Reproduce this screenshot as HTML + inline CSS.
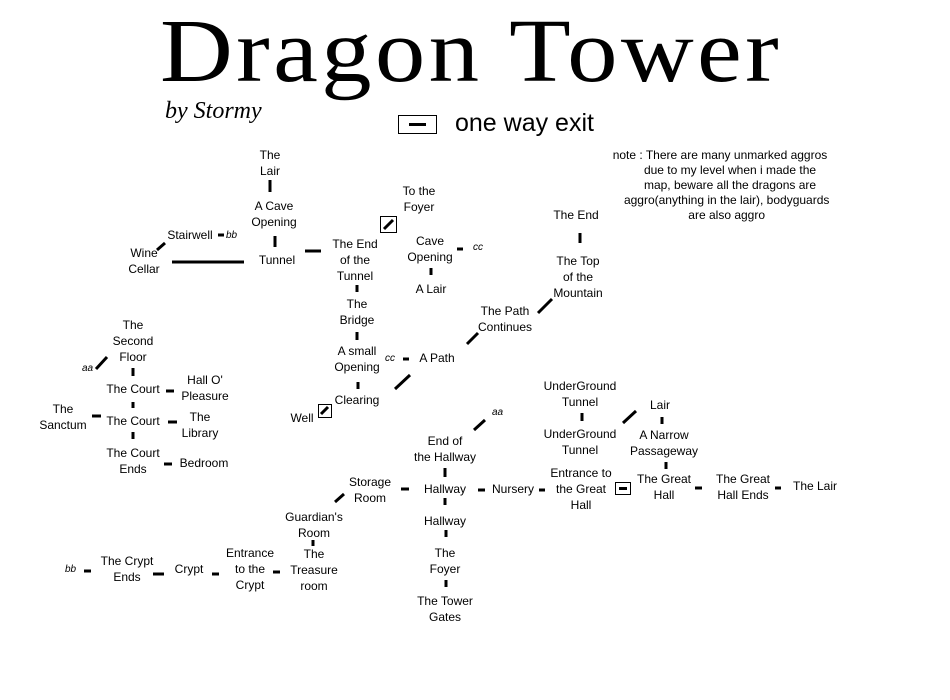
<!DOCTYPE html>
<html><head><meta charset="utf-8"><style>
html,body{margin:0;padding:0;background:#fff;}
#c{position:relative;width:950px;height:700px;overflow:hidden;background:#fff;font-family:"Liberation Sans",sans-serif;color:#000;}
.t{position:absolute;transform:translateX(-50%);text-align:center;font-size:12px;line-height:16px;white-space:nowrap;}
.i{position:absolute;font-style:italic;font-size:10px;line-height:12px;}
svg{position:absolute;left:0;top:0;}
</style></head><body><div id="c">
<div style="position:absolute;left:471px;top:2px;transform:translateX(-50%) scaleX(1.12);font-family:'Liberation Serif',serif;font-size:90px;line-height:99px;white-space:nowrap;letter-spacing:3px;">Dragon Tower</div>
<div style="position:absolute;left:165px;top:96px;font-family:'Liberation Serif',serif;font-style:italic;font-size:24px;line-height:30px;">by Stormy</div>
<div style="position:absolute;left:455px;top:107px;font-size:25px;line-height:32px;">one way exit</div>
<div style="position:absolute;left:720px;top:148px;transform:translateX(-50%);text-align:center;font-size:12px;line-height:15px;white-space:nowrap;">note : There are many unmarked aggros<br>&nbsp;&nbsp;&nbsp;&nbsp;&nbsp;&nbsp;due to my level when i made the<br>&nbsp;&nbsp;&nbsp;&nbsp;&nbsp;&nbsp;map, beware all the dragons are<br>&nbsp;&nbsp;&nbsp;&nbsp;aggro(anything in the lair), bodyguards<br>&nbsp;&nbsp;&nbsp;&nbsp;are also aggro</div>

<div class="t" style="left:270px;top:147px">The<br>Lair</div>
<div class="t" style="left:274px;top:198px">A Cave<br>Opening</div>
<div class="t" style="left:277px;top:252px">Tunnel</div>
<div class="t" style="left:190px;top:227px">Stairwell</div>
<div class="i" style="left:226px;top:230px">bb</div>
<div class="t" style="left:144px;top:245px">Wine<br>Cellar</div>
<div class="t" style="left:355px;top:236px">The End<br>of the<br>Tunnel</div>
<div class="t" style="left:419px;top:183px">To the<br>Foyer</div>
<div class="t" style="left:430px;top:233px">Cave<br>Opening</div>
<div class="t" style="left:431px;top:281px">A Lair</div>
<div class="i" style="left:473px;top:242px">cc</div>
<div class="t" style="left:576px;top:207px">The End</div>
<div class="t" style="left:578px;top:253px">The Top<br>of the<br>Mountain</div>
<div class="t" style="left:505px;top:303px">The Path<br>Continues</div>
<div class="t" style="left:357px;top:296px">The<br>Bridge</div>
<div class="t" style="left:357px;top:343px">A small<br>Opening</div>
<div class="i" style="left:385px;top:353px">cc</div>
<div class="t" style="left:437px;top:350px">A Path</div>
<div class="t" style="left:357px;top:392px">Clearing</div>
<div class="t" style="left:302px;top:410px">Well</div>
<div class="t" style="left:133px;top:317px">The<br>Second<br>Floor</div>
<div class="i" style="left:82px;top:363px">aa</div>
<div class="t" style="left:133px;top:381px">The Court</div>
<div class="t" style="left:205px;top:372px">Hall O'<br>Pleasure</div>
<div class="t" style="left:63px;top:401px">The<br>Sanctum</div>
<div class="t" style="left:133px;top:413px">The Court</div>
<div class="t" style="left:200px;top:409px">The<br>Library</div>
<div class="t" style="left:133px;top:445px">The Court<br>Ends</div>
<div class="t" style="left:204px;top:455px">Bedroom</div>
<div class="i" style="left:492px;top:407px">aa</div>
<div class="t" style="left:445px;top:433px">End of<br>the Hallway</div>
<div class="t" style="left:580px;top:378px">UnderGround<br>Tunnel</div>
<div class="t" style="left:580px;top:426px">UnderGround<br>Tunnel</div>
<div class="t" style="left:660px;top:397px">Lair</div>
<div class="t" style="left:664px;top:427px">A Narrow<br>Passageway</div>
<div class="t" style="left:370px;top:474px">Storage<br>Room</div>
<div class="t" style="left:445px;top:481px">Hallway</div>
<div class="t" style="left:513px;top:481px">Nursery</div>
<div class="t" style="left:581px;top:465px">Entrance to<br>the Great<br>Hall</div>
<div class="t" style="left:664px;top:471px">The Great<br>Hall</div>
<div class="t" style="left:743px;top:471px">The Great<br>Hall Ends</div>
<div class="t" style="left:815px;top:478px">The Lair</div>
<div class="t" style="left:445px;top:513px">Hallway</div>
<div class="t" style="left:445px;top:545px">The<br>Foyer</div>
<div class="t" style="left:445px;top:593px">The Tower<br>Gates</div>
<div class="t" style="left:314px;top:509px">Guardian's<br>Room</div>
<div class="t" style="left:314px;top:546px">The<br>Treasure<br>room</div>
<div class="t" style="left:250px;top:545px">Entrance<br>to the<br>Crypt</div>
<div class="t" style="left:189px;top:561px">Crypt</div>
<div class="t" style="left:127px;top:553px">The Crypt<br>Ends</div>
<div class="i" style="left:65px;top:564px">bb</div>

<svg width="950" height="700" viewBox="0 0 950 700">
<g stroke="#000" stroke-width="3" fill="none">
<line x1="270" y1="180" x2="270" y2="192"/>
<line x1="275" y1="236" x2="275" y2="247"/>
<line x1="305" y1="251" x2="321" y2="251"/>
<line x1="172" y1="262" x2="244" y2="262"/>
<line x1="157" y1="250" x2="165" y2="243"/>
<line x1="218" y1="235" x2="224" y2="235"/>
<line x1="357" y1="285" x2="357" y2="292"/>
<line x1="357" y1="332" x2="357" y2="340"/>
<line x1="358" y1="382" x2="358" y2="389"/>
<line x1="457" y1="249" x2="463" y2="249"/>
<line x1="431" y1="268" x2="431" y2="275"/>
<line x1="580" y1="233" x2="580" y2="243"/>
<line x1="467" y1="344" x2="478" y2="333"/>
<line x1="538" y1="313" x2="552" y2="299"/>
<line x1="395" y1="389" x2="410" y2="375"/>
<line x1="403" y1="359" x2="409" y2="359"/>
<line x1="96" y1="369" x2="107" y2="357"/>
<line x1="133" y1="368" x2="133" y2="376"/>
<line x1="166" y1="391" x2="174" y2="391"/>
<line x1="133" y1="402" x2="133" y2="408"/>
<line x1="92" y1="416" x2="101" y2="416"/>
<line x1="168" y1="422" x2="177" y2="422"/>
<line x1="133" y1="432" x2="133" y2="439"/>
<line x1="164" y1="464" x2="172" y2="464"/>
<line x1="474" y1="430" x2="485" y2="420"/>
<line x1="445" y1="468" x2="445" y2="477"/>
<line x1="401" y1="489" x2="409" y2="489"/>
<line x1="478" y1="490" x2="485" y2="490"/>
<line x1="539" y1="490" x2="545" y2="490"/>
<line x1="582" y1="413" x2="582" y2="421"/>
<line x1="623" y1="423" x2="636" y2="411"/>
<line x1="662" y1="417" x2="662" y2="424"/>
<line x1="666" y1="462" x2="666" y2="469"/>
<line x1="695" y1="488" x2="702" y2="488"/>
<line x1="775" y1="488" x2="781" y2="488"/>
<line x1="445" y1="498" x2="445" y2="505"/>
<line x1="446" y1="530" x2="446" y2="537"/>
<line x1="446" y1="580" x2="446" y2="587"/>
<line x1="335" y1="502" x2="344" y2="494"/>
<line x1="313" y1="540" x2="313" y2="546"/>
<line x1="273" y1="572" x2="280" y2="572"/>
<line x1="212" y1="574" x2="219" y2="574"/>
<line x1="153" y1="574" x2="164" y2="574"/>
<line x1="84" y1="571" x2="91" y2="571"/>
</g>
<g stroke="#000" fill="none" stroke-width="1">
<rect x="398.5" y="115.5" width="38" height="18"/>
<rect x="380.5" y="216.5" width="16" height="16"/>
<rect x="318.5" y="404.5" width="13" height="13"/>
<rect x="615.5" y="482.5" width="15" height="12"/>
</g>
<g stroke="#000" stroke-width="3">
<line x1="409" y1="124.5" x2="426" y2="124.5"/>
<line x1="384" y1="229" x2="393" y2="220"/>
<line x1="321" y1="414" x2="328" y2="407"/>
<line x1="619" y1="488.5" x2="627" y2="488.5"/>
</g>
</svg>
</div></body></html>
